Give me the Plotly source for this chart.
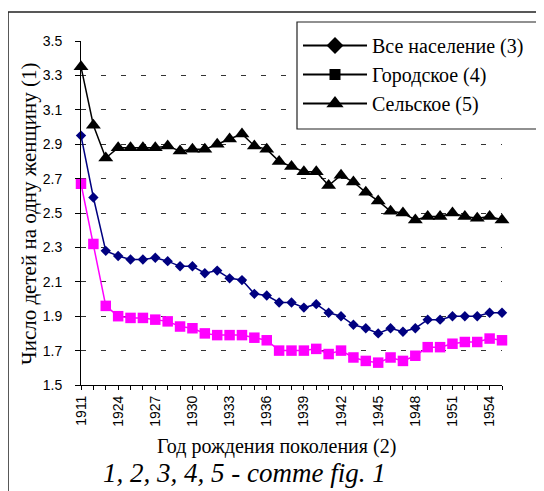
import plotly.graph_objects as go

# ---- data ----
years = ["1911", "1921", "1922"] + [str(y) for y in range(1924, 1956)]
label_years = ["1911", "1924", "1927", "1930", "1933", "1936", "1939",
               "1942", "1945", "1948", "1951", "1954"]

total = [2.95, 2.59, 2.28, 2.25, 2.23, 2.23, 2.24, 2.22, 2.19, 2.19,
         2.15, 2.165, 2.12, 2.11, 2.03, 2.02, 1.98, 1.98, 1.95, 1.97,
         1.92, 1.90, 1.85, 1.83, 1.80, 1.83, 1.81, 1.83, 1.88, 1.88,
         1.90, 1.90, 1.90, 1.92, 1.92]
urban = [2.67, 2.32, 1.96, 1.90, 1.89, 1.89, 1.88, 1.87, 1.84, 1.83,
         1.80, 1.79, 1.79, 1.79, 1.775, 1.76, 1.70, 1.70, 1.70, 1.71,
         1.68, 1.70, 1.66, 1.64, 1.63, 1.66, 1.64, 1.67, 1.72, 1.72,
         1.74, 1.75, 1.75, 1.77, 1.76]
rural = [3.35, 3.01, 2.82, 2.88, 2.88, 2.88, 2.88, 2.89, 2.86, 2.87,
         2.87, 2.90, 2.93, 2.96, 2.89, 2.87, 2.80, 2.77, 2.74, 2.74,
         2.66, 2.72, 2.68, 2.62, 2.57, 2.51, 2.50, 2.46, 2.48, 2.48,
         2.50, 2.48, 2.47, 2.48, 2.46]

names = ["Все население (3)", "Городское (4)", "Сельское (5)"]
symbols = ["diamond", "square", "triangle-up"]
colors = ["#000080", "#FF00FF", "#000000"]
sizes = [8, 10.5, 13]
legend_sizes = [13, 11, 15]

SERIF = "Liberation Serif"
SANS = "Liberation Sans"

fig = go.Figure()
for vals, sym, col, sz in zip([total, urban, rural], symbols, colors, sizes):
    fig.add_trace(go.Scatter(
        x=years, y=vals, mode="lines+markers",
        line=dict(color=col, width=1.5),
        marker=dict(symbol=sym, size=sz, color=col),
        showlegend=False, cliponaxis=False))

# legend entries (black samples as in the original)
for i, (nm, sym, sz) in enumerate(zip(names, symbols, legend_sizes)):
    fig.add_trace(go.Scatter(
        x=[None], y=[None], mode="lines+markers", name=nm,
        legendgroup=f"g{i}",
        line=dict(color="black", width=2),
        marker=dict(symbol=sym, size=sz, color="black")))

OFF = 8  # page body margin
W, H = 544 - OFF, 491 - OFF
L, R, T, B = 81 - OFF, 502 - OFF, 41 - OFF, 385 - OFF

def px(x):
    return (x - OFF - L) / (R - L)

def py(y):
    return (B - (y - OFF)) / (B - T)

fig.update_layout(
    width=W, height=H,
    margin=dict(l=L, r=W - R, t=T, b=H - B),
    paper_bgcolor="white", plot_bgcolor="white",
    xaxis=dict(
        type="category", categoryorder="array", categoryarray=years,
        range=[0, len(years) - 1],
        tickvals=years,
        ticktext=[y if y in label_years else "" for y in years],
        tickangle=-90,
        tickfont=dict(family=SANS, size=14, color="black"),
        ticks="outside", ticklen=4, tickcolor="black",
        showline=True, linecolor="black", linewidth=1,
        showgrid=False, zeroline=False),
    xaxis2=dict(
        overlaying="x", anchor="y", side="bottom",
        range=[0, len(years) - 1], dtick=1, tick0=0,
        ticks="inside", ticklen=4, tickcolor="black",
        showticklabels=False, showline=False, showgrid=False,
        zeroline=False),
    yaxis=dict(
        range=[1.5, 3.5], dtick=0.2, tick0=1.5, tickformat=".1f",
        tickfont=dict(family=SANS, size=14, color="black"),
        ticks="outside", ticklen=5, tickcolor="black",
        showline=True, linecolor="black", linewidth=1,
        showgrid=True, gridcolor="#333333", gridwidth=1,
        griddash="5px,15px", zeroline=False,
        ticklabelstandoff=10),
    legend=dict(
        x=px(298), y=py(26), xanchor="left", yanchor="top",
        font=dict(family=SERIF, size=20, color="black"),
        bgcolor="rgba(0,0,0,0)", borderwidth=0,
        itemwidth=64, tracegroupgap=0, traceorder="grouped"),
    shapes=[
        dict(type="rect", xref="paper", yref="paper", layer="above",
             x0=px(297), x1=px(540), y0=py(129), y1=py(22),
             line=dict(color="#222222", width=1.2), fillcolor="white"),
        dict(type="rect", xref="paper", yref="paper",
             x0=px(8), x1=px(560), y0=py(520), y1=py(12),
             line=dict(color="#222222", width=1.5), fillcolor="rgba(0,0,0,0)"),
    ],
    annotations=[
        dict(text="Число детей на одну женщину (1)", xref="paper", yref="paper",
             x=px(29), y=py(214), xanchor="center", yanchor="middle",
             textangle=-90, showarrow=False,
             font=dict(family=SERIF, size=21, color="black")),
        dict(text="Год рождения поколения (2)", xref="paper", yref="paper",
             x=px(276), y=py(447), xanchor="center", yanchor="middle",
             showarrow=False,
             font=dict(family=SERIF, size=20, color="black")),
        dict(text="<i>1, 2, 3, 4, 5 - comme fig. 1</i>", xref="paper", yref="paper",
             x=px(244), y=py(473), xanchor="center", yanchor="middle",
             showarrow=False,
             font=dict(family=SERIF, size=27, color="black")),
    ],
)

fig.write_html("out.html")
